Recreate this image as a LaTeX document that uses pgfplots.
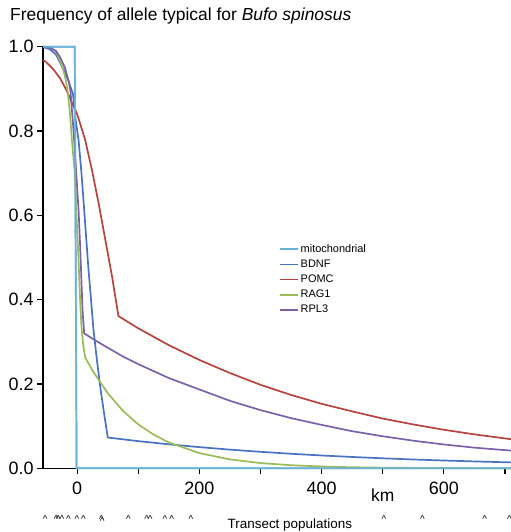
\documentclass[border=0pt]{standalone}
\usepackage{fontspec}
\setmainfont{Liberation Sans}
\usepackage{pgfplots}
\pgfplotsset{compat=1.18}
\definecolor{cmito}{HTML}{6BB3D6}
\definecolor{cbdnf}{HTML}{4A72C2}
\definecolor{cpomc}{HTML}{B5443F}
\definecolor{crag}{HTML}{9BBB59}
\definecolor{crpl}{HTML}{7B62A8}
\begin{document}
\begin{tikzpicture}
\begin{axis}[
  name=ax,
  scale only axis, width=468bp, height=421.6bp,
  xmin=-56, xmax=710, ymin=0, ymax=1,
  axis x line*=bottom, axis y line*=left,
  axis line style={black, line width=1.6bp},
  xtick={0,200,400,600}, minor xtick={100,300,500,700},
  ytick={0,0.2,0.4,0.6,0.8,1.0},
  yticklabel style={/pgf/number format/fixed, /pgf/number format/fixed zerofill, /pgf/number format/precision=1},
  xticklabel style={/pgf/number format/fixed, yshift=-4bp},
  tick align=outside, major tick length=6bp, minor tick length=6bp,
  every tick/.append style={black, line width=1.3bp},
  ticklabel style={font=\fontsize{18}{20}\selectfont},
  /pgf/number format/assume math mode=true,
  clip=false,
  every axis plot/.append style={line width=1.7bp},
  legend cell align=left,
  legend style={at={(axis cs:330,0.536)}, anchor=north west, draw=none, fill=none,
    font=\fontsize{11}{13}\selectfont, row sep=2bp, inner sep=0pt},
  legend image code/.code={\draw[#1, line width=1.7bp] (0bp,0bp) -- (18bp,0bp);},
]
\addplot[cmito, line width=1.7bp] coordinates {(-56,1) (-4,1) (-1,0) (710,0)};
\addlegendentry{mitochondrial}
\addplot[cbdnf, line width=1.7bp] coordinates {
(-56,0.999) (-45,0.994) (-35,0.982) (-22,0.945) (-14,0.918) (-7,0.888) (-2,0.82)
(2.2,0.779) (7,0.70) (11.4,0.613) (15,0.54) (18.5,0.471) (22.6,0.40) (26.6,0.329)
(32,0.26) (38,0.19) (44,0.13) (50,0.073)
(100,0.0644) (150,0.0569) (200,0.0502) (250,0.0443) (300,0.0391) (350,0.0345)
(400,0.0304) (450,0.0269) (500,0.0237) (550,0.0209) (600,0.0185) (650,0.0163) (710,0.0140)};
\addlegendentry{BDNF}
\addplot[cpomc, line width=1.7bp] coordinates {
(-56,0.968) (-52,0.965) (-40,0.948) (-28,0.925) (-18,0.898) (-11,0.875) (-0.5,0.842)
(6,0.812) (13,0.779) (24,0.708) (35,0.629) (46,0.542) (57,0.455) (67.5,0.361)
(100,0.332) (150,0.292) (200,0.257) (250,0.226) (300,0.198) (350,0.174) (400,0.153)
(450,0.135) (500,0.118) (550,0.104) (600,0.0915) (650,0.0805) (710,0.069)};
\addlegendentry{POMC}
\addplot[crag, line width=1.7bp] coordinates {
(-56,1.0) (-45,0.998) (-35,0.99) (-25,0.955) (-20,0.93) (-16,0.898) (-12,0.845) (-8.7,0.779)
(-4,0.70) (-1.6,0.613) (2,0.50) (5,0.39) (7,0.335) (10,0.29) (13,0.263)
(25,0.232) (50,0.178) (75,0.136) (100,0.104) (125,0.080) (150,0.0613) (200,0.036)
(250,0.0211) (300,0.0124) (350,0.0073) (400,0.0043) (450,0.0025) (500,0.0015) (600,0.0005) (710,0.0002)};
\addlegendentry{RAG1}
\addplot[crpl, line width=1.7bp] coordinates {
(-56,1.0) (-45,0.998) (-35,0.99) (-28,0.975) (-20,0.95) (-14,0.918) (-11,0.895) (-6,0.8) (-2,0.71)
(2.2,0.613) (5,0.52) (8.7,0.376) (11.4,0.320)
(30,0.303) (50,0.286) (75,0.265) (100,0.247) (150,0.214) (200,0.187) (250,0.160)
(300,0.138) (350,0.119) (400,0.103) (450,0.088) (500,0.076) (550,0.0655) (600,0.0565) (650,0.049) (710,0.042)};
\addlegendentry{RPL3}
\addplot[cmito, line width=1.7bp, forget plot] coordinates {(-56,1) (-4,1) (-1,0) (710,0)};
% transect populations
\addplot[only marks, mark=text, text mark={\fontsize{10}{10}\selectfont\textasciicircum}, forget plot] coordinates {
(-52.3,-0.121) (-34.3,-0.121) (-31,-0.121) (-25,-0.121) (-14.2,-0.121) (-0.5,-0.121)
(10.3,-0.121) (39.5,-0.121) (41,-0.124) (83.8,-0.121) (113.9,-0.121) (119.3,-0.121)
(143.8,-0.121) (154.7,-0.121) (186.3,-0.121) (502,-0.121) (564.9,-0.121) (667,-0.121) (707.5,-0.121)};
\node[font=\fontsize{17.5}{20}\selectfont] at (axis cs:500,-0.063) {km};
\node[font=\fontsize{13.5}{15}\selectfont] at (axis cs:348,-0.135) {Transect populations};
\node[anchor=base west, font=\fontsize{17.5}{20}\selectfont, xshift=-33bp, yshift=26bp, inner sep=0pt]
  at (rel axis cs:0,1) {Frequency of allele typical for \textit{Bufo spinosus}};
\end{axis}
\pgfresetboundingbox
\path ([shift={(-43bp,-63.7bp)}]ax.south west) rectangle ([shift={(468bp,468.3bp)}]ax.south west);
\end{tikzpicture}
\end{document}
